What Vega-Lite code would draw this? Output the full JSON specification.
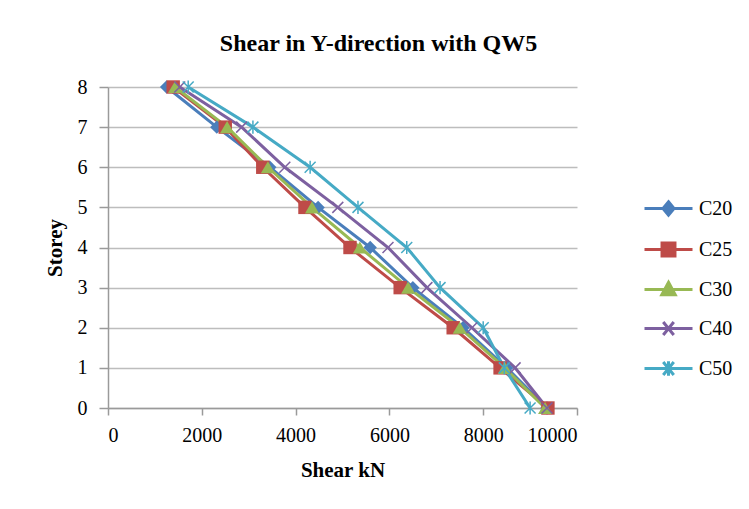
{
  "$schema": "https://vega.github.io/schema/vega-lite/v6.json",
  "width": 469,
  "height": 321,
  "autosize": {"type": "none"},
  "padding": {"left": 108, "top": 87, "right": 172, "bottom": 101},
  "background": "white",
  "title": {
    "text": "Shear in Y-direction with QW5",
    "font": "Liberation Serif",
    "fontSize": 24,
    "fontWeight": "bold",
    "color": "black",
    "anchor": "middle",
    "dx": 36,
    "offset": 21
  },
  "config": {
    "view": {"stroke": null},
    "axis": {
      "domainColor": "#9A9A9A",
      "tickColor": "#9A9A9A",
      "gridColor": "#BDBDBD",
      "gridWidth": 1.5,
      "domainWidth": 1.5,
      "tickWidth": 1.5,
      "labelFont": "Liberation Serif",
      "labelFontSize": 20,
      "labelColor": "black",
      "titleFont": "Liberation Serif",
      "titleFontSize": 21,
      "titleFontWeight": "bold",
      "titleColor": "black"
    }
  },
  "data": {
    "values": [
      {"s": "C20", "storey": 8, "shear": 1250},
      {"s": "C20", "storey": 7, "shear": 2320},
      {"s": "C20", "storey": 6, "shear": 3450},
      {"s": "C20", "storey": 5, "shear": 4480},
      {"s": "C20", "storey": 4, "shear": 5590},
      {"s": "C20", "storey": 3, "shear": 6500},
      {"s": "C20", "storey": 2, "shear": 7570},
      {"s": "C20", "storey": 1, "shear": 8500},
      {"s": "C20", "storey": 0, "shear": 9360},
      {"s": "C25", "storey": 8, "shear": 1390},
      {"s": "C25", "storey": 7, "shear": 2500},
      {"s": "C25", "storey": 6, "shear": 3300},
      {"s": "C25", "storey": 5, "shear": 4200},
      {"s": "C25", "storey": 4, "shear": 5160},
      {"s": "C25", "storey": 3, "shear": 6230},
      {"s": "C25", "storey": 2, "shear": 7360},
      {"s": "C25", "storey": 1, "shear": 8360},
      {"s": "C25", "storey": 0, "shear": 9380},
      {"s": "C30", "storey": 8, "shear": 1430},
      {"s": "C30", "storey": 7, "shear": 2540},
      {"s": "C30", "storey": 6, "shear": 3410},
      {"s": "C30", "storey": 5, "shear": 4350},
      {"s": "C30", "storey": 4, "shear": 5370},
      {"s": "C30", "storey": 3, "shear": 6400},
      {"s": "C30", "storey": 2, "shear": 7500},
      {"s": "C30", "storey": 1, "shear": 8460},
      {"s": "C30", "storey": 0, "shear": 9320},
      {"s": "C40", "storey": 8, "shear": 1530},
      {"s": "C40", "storey": 7, "shear": 2850},
      {"s": "C40", "storey": 6, "shear": 3770},
      {"s": "C40", "storey": 5, "shear": 4900},
      {"s": "C40", "storey": 4, "shear": 5970},
      {"s": "C40", "storey": 3, "shear": 6800},
      {"s": "C40", "storey": 2, "shear": 7760},
      {"s": "C40", "storey": 1, "shear": 8680},
      {"s": "C40", "storey": 0, "shear": 9360},
      {"s": "C50", "storey": 8, "shear": 1710},
      {"s": "C50", "storey": 7, "shear": 3090},
      {"s": "C50", "storey": 6, "shear": 4310},
      {"s": "C50", "storey": 5, "shear": 5330},
      {"s": "C50", "storey": 4, "shear": 6370},
      {"s": "C50", "storey": 3, "shear": 7080},
      {"s": "C50", "storey": 2, "shear": 8000},
      {"s": "C50", "storey": 1, "shear": 8450},
      {"s": "C50", "storey": 0, "shear": 9000}
    ]
  },
  "encoding": {
    "x": {
      "field": "shear",
      "type": "quantitative",
      "scale": {"domain": [0, 10000], "nice": false},
      "axis": {
        "title": "Shear kN",
        "grid": false,
        "values": [0, 2000, 4000, 6000, 8000, 10000],
        "format": "d",
        "tickSize": 7,
        "labelPadding": 10,
        "titlePadding": 14
      }
    },
    "y": {
      "field": "storey",
      "type": "quantitative",
      "scale": {"domain": [0, 8], "nice": false},
      "axis": {
        "title": "Storey",
        "grid": true,
        "values": [0, 1, 2, 3, 4, 5, 6, 7, 8],
        "tickSize": 9,
        "labelPadding": 12,
        "titlePadding": 12
      }
    },
    "color": {
      "field": "s",
      "type": "nominal",
      "scale": {
        "domain": ["C20", "C25", "C30", "C40", "C50"],
        "range": ["#4A7EBB", "#BE4B48", "#98B954", "#7D60A0", "#46AAC5"]
      },
      "legend": {
        "title": null,
        "orient": "none",
        "legendX": 535,
        "legendY": 96,
        "padding": 0,
        "symbolSize": 2304,
        "symbolStrokeWidth": 3,
        "symbolType": {"expr": "datum.value === 'C20' ? 'M-1,0L1,0M0,-0.28L0.23,0L0,0.28L-0.23,0Z' : datum.value === 'C25' ? 'M-1,0L1,0M-0.27,-0.27L0.27,-0.27L0.27,0.27L-0.27,0.27Z' : datum.value === 'C30' ? 'M-1,0L1,0M0,-0.3L0.28,0.22L-0.28,0.22Z' : datum.value === 'C40' ? 'M-1,0L1,0M-0.22,-0.27L0.22,0.27M-0.22,0.27L0.22,-0.27' : 'M-1,0L1,0M-0.22,-0.27L0.22,0.27M-0.22,0.27L0.22,-0.27M0,-0.3L0,0.3'"},
        "labelFont": "Liberation Serif",
        "labelFontSize": 20,
        "labelColor": "black",
        "labelOffset": 5,
        "rowPadding": 2,
        "encoding": {
          "symbols": {
            "fill": {"value": {"expr": "scale('color', datum.value)"}},
            "stroke": {"value": {"expr": "scale('color', datum.value)"}},
            "strokeWidth": {"value": 3},
            "opacity": {"value": 1}
          }
        }
      }
    }
  },
  "layer": [
    {
      "mark": {"type": "line", "strokeWidth": 3},
      "encoding": {"order": {"field": "storey", "type": "quantitative"}}
    },
    {
      "transform": [{"filter": "datum.s === 'C20'"}],
      "mark": {"type": "point", "shape": "diamond", "filled": true, "opacity": 1, "size": 180}
    },
    {
      "transform": [{"filter": "datum.s === 'C25'"}],
      "mark": {"type": "point", "shape": "square", "filled": true, "opacity": 1, "size": 180}
    },
    {
      "transform": [{"filter": "datum.s === 'C30'"}],
      "mark": {"type": "point", "shape": "triangle-up", "filled": true, "opacity": 1, "size": 200}
    },
    {
      "transform": [{"filter": "datum.s === 'C40'"}],
      "mark": {"type": "point", "shape": "M-1,-1L1,1M-1,1L1,-1", "filled": false, "opacity": 1, "strokeWidth": 1.5, "size": 120}
    },
    {
      "transform": [{"filter": "datum.s === 'C50'"}],
      "mark": {"type": "point", "shape": "M-1,-1L1,1M-1,1L1,-1M0,-1.2L0,1.2", "filled": false, "opacity": 1, "strokeWidth": 1.5, "size": 120}
    }
  ]
}
